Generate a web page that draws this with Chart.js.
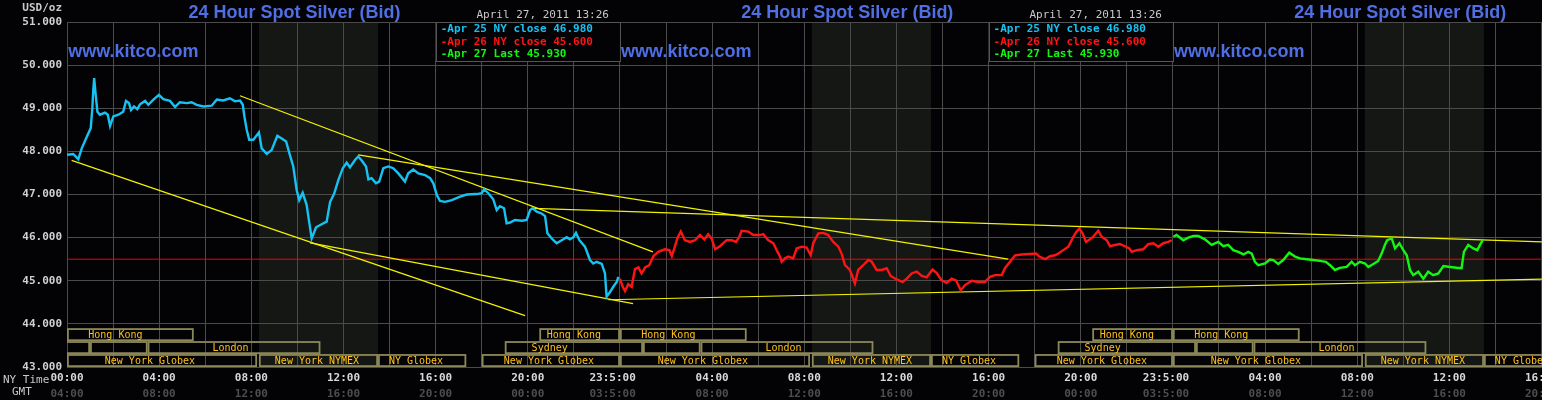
<!DOCTYPE html>
<html><head><meta charset="utf-8">
<script src="https://cdn.jsdelivr.net/npm/chart.js@4.4.1/dist/chart.umd.min.js"></script>
<style>html,body{margin:0;padding:0;background:#020204;overflow:hidden}canvas{display:block}</style>
</head><body>
<canvas id="c" width="1542" height="400"></canvas>
<script>
// ---------- DATA (hours since Apr 25 00:00 NY time, price USD/oz) ----------
const apr25Hours = [0.00,0.27,0.49,0.64,0.86,1.03,1.10,1.14,1.18,1.23,1.32,1.43,1.65,1.77,1.87,2.01,2.23,2.44,2.56,2.69,2.78,2.91,3.05,3.17,3.39,3.53,3.75,3.99,4.18,4.47,4.69,4.90,5.20,5.41,5.63,5.92,6.28,6.50,6.78,7.07,7.29,7.51,7.63,7.70,7.80,7.91,8.09,8.33,8.45,8.67,8.88,9.13,9.32,9.51,9.65,9.82,9.97,10.08,10.23,10.40,10.52,10.62,10.81,11.05,11.27,11.42,11.59,11.78,11.97,12.14,12.28,12.50,12.64,12.79,12.98,13.08,13.22,13.41,13.55,13.73,13.95,14.16,14.38,14.67,14.81,15.03,15.25,15.54,15.76,15.90,16.05,16.19,16.41,16.70,17.06,17.35,17.78,18.00,18.10,18.29,18.50,18.65,18.79,18.97,19.08,19.23,19.44,19.74,19.95,20.10,20.21,20.39,20.60,20.75,20.85,21.04,21.25,21.47,21.69,21.83,21.98,22.09,22.24,22.48,22.70,22.84,22.99,23.21,23.35,23.42,23.57,23.71,23.86,23.93];
const apr25Values = [47.92,47.94,47.82,48.07,48.34,48.54,49.00,49.43,49.70,49.39,48.92,48.85,48.90,48.85,48.59,48.81,48.85,48.92,49.17,49.12,48.96,49.04,48.98,49.09,49.17,49.08,49.20,49.31,49.21,49.17,49.03,49.14,49.12,49.14,49.08,49.04,49.06,49.20,49.18,49.23,49.16,49.18,49.08,48.81,48.50,48.27,48.27,48.44,48.07,47.94,48.03,48.36,48.30,48.23,47.96,47.65,47.10,46.87,47.04,46.76,46.33,45.98,46.24,46.31,46.37,46.83,47.01,47.34,47.61,47.74,47.63,47.80,47.88,47.79,47.65,47.35,47.38,47.26,47.30,47.61,47.65,47.61,47.49,47.30,47.49,47.58,47.49,47.45,47.38,47.26,46.99,46.85,46.83,46.87,46.95,47.00,47.01,47.03,47.12,47.03,46.89,46.64,46.73,46.68,46.33,46.35,46.41,46.39,46.41,46.64,46.68,46.60,46.56,46.50,46.10,45.98,45.87,45.94,46.01,45.96,46.01,46.11,45.94,45.79,45.48,45.40,45.44,45.39,45.17,44.63,44.74,44.86,44.97,45.09];

const apr26Hours = [24.00,24.12,24.22,24.36,24.51,24.65,24.80,24.94,25.09,25.27,25.45,25.66,25.95,26.14,26.25,26.36,26.49,26.64,26.82,27.04,27.26,27.47,27.66,27.83,27.98,28.13,28.34,28.63,28.85,29.04,29.18,29.28,29.57,29.79,30.08,30.22,30.44,30.66,30.80,30.95,31.02,31.16,31.31,31.52,31.67,31.89,32.10,32.28,32.39,32.61,32.83,33.04,33.26,33.48,33.62,33.77,33.98,34.20,34.34,34.56,34.78,34.93,35.14,35.36,35.58,35.75,36.01,36.27,36.45,36.66,36.88,37.10,37.31,37.57,37.75,37.96,38.18,38.40,38.59,38.79,38.98,39.27,39.55,39.84,40.06,40.28,40.57,40.71,40.93,41.15,41.44,41.80,42.06,42.20,42.45,42.67,42.88,43.03,43.24,43.46,43.68,43.82,43.94,44.08,44.23,44.40,44.54,44.76,44.91,45.13,45.27,45.49,45.70,45.92,46.11,46.21,46.43,46.71,46.93,47.15,47.37,47.58,47.80,47.95];
const apr26Values = [45.05,44.86,44.76,44.92,44.86,45.27,45.31,45.17,45.31,45.36,45.57,45.67,45.73,45.71,45.57,45.75,45.98,46.14,45.94,45.90,45.94,46.06,45.96,46.08,45.98,45.73,45.80,45.94,45.94,45.90,46.02,46.16,46.14,46.06,46.06,46.08,45.94,45.87,45.71,45.56,45.44,45.52,45.56,45.52,45.75,45.79,45.77,45.59,45.87,46.10,46.11,46.06,45.90,45.79,45.63,45.36,45.25,44.94,45.25,45.36,45.48,45.44,45.25,45.25,45.29,45.11,45.03,44.97,45.05,45.17,45.21,45.11,45.08,45.26,45.18,45.01,44.95,45.05,45.01,44.78,44.90,45.00,44.97,44.97,45.09,45.13,45.13,45.29,45.44,45.59,45.61,45.62,45.63,45.56,45.50,45.57,45.59,45.63,45.71,45.79,46.02,46.14,46.21,46.10,45.90,45.96,46.02,46.16,46.02,45.94,45.80,45.83,45.85,45.80,45.75,45.67,45.71,45.73,45.85,45.87,45.79,45.87,45.90,45.94];

const apr27Hours = [48.02,48.16,48.45,48.67,48.89,49.10,49.39,49.68,49.97,50.19,50.40,50.62,50.84,51.06,51.27,51.42,51.56,51.71,52.00,52.21,52.36,52.57,52.79,53.05,53.30,53.51,53.81,54.09,54.38,54.64,54.82,55.03,55.25,55.54,55.76,55.90,56.12,56.34,56.48,56.70,56.91,57.06,57.20,57.30,57.50,57.64,57.83,58.00,58.15,58.29,58.43,58.65,58.87,59.08,59.30,59.52,59.74,60.03,60.32,60.53,60.63,60.82,61.04,61.21,61.33,61.45];
const apr27Values = [46.02,46.06,45.94,46.00,46.04,46.04,45.96,45.83,45.90,45.80,45.83,45.71,45.67,45.61,45.67,45.63,45.44,45.36,45.40,45.49,45.48,45.39,45.48,45.65,45.56,45.52,45.50,45.48,45.46,45.44,45.36,45.25,45.30,45.32,45.44,45.36,45.44,45.40,45.32,45.39,45.46,45.63,45.83,45.94,45.98,45.75,45.87,45.71,45.59,45.25,45.13,45.21,45.05,45.21,45.13,45.17,45.34,45.32,45.30,45.29,45.67,45.83,45.75,45.71,45.83,45.94];

// previous close reference line (value as drawn)
const prevCloseLevel = 45.5;

// hand-drawn trend lines: [startHour, startValue, endHour, endValue]
const trendLines = [
  [0.20, 47.79, 19.88, 44.19],
  [7.51, 49.29, 25.43, 45.67],
  [10.55, 45.88, 24.57, 44.47],
  [12.64, 47.92, 40.85, 45.50],
  [20.24, 46.68, 64.02, 45.90],
  [23.50, 44.56, 64.02, 45.04]
];

// axis
const xMax = 64.02;
const yMin = 43, yMax = 51;
const nyTickHours  = [0,4,8,12,16,20,23.68,28,32,36,40,44,47.7,52,56,60,64];
const nyTickLabels = ['00:00','04:00','08:00','12:00','16:00','20:00','23:5:00','04:00','08:00','12:00','16:00','20:00','23:5:00','04:00','08:00','12:00','16:00'];
const gmtTickLabels= ['04:00','08:00','12:00','16:00','20:00','00:00','03:5:00','08:00','12:00','16:00','20:00','00:00','03:5:00','08:00','12:00','16:00','20:00'];

// trading sessions for one day (NY hours), repeated per day offset
const sessionNames   = ['Hong Kong','Hong Kong','Sydney','','London','New York Globex','New York Globex','New York NYMEX','NY Globex'];
const sessionStart   = [20.5, 24.0, 19.0, 25.0, 27.5, 18.0, 24.0, 32.33, 37.5];
const sessionEnd     = [24.0, 29.5, 25.0, 27.5, 35.0, 24.0, 32.25, 37.5, 41.33];
const sessionRow     = [0, 0, 1, 1, 1, 2, 2, 2, 2];
const sessionLabelAt = [22.0, 26.1, 20.95, 26.25, 31.1, 20.92, 27.6, 34.85, 39.15];
const dayOffsets     = [-24, 0, 24];
const rowBands       = [[43.6, 43.9], [43.3, 43.6], [43.0, 43.3]];

// legend / header texts
const titleText = '24 Hour Spot Silver (Bid)';
const siteText = 'www.kitco.com';
const stampText = 'April 27, 2011 13:26';
const legendLabels = ['-Apr 25 NY close 46.980', '-Apr 26 NY close 45.600', '-Apr 27 Last 45.930'];
const panelStarts = [0, 24, 48];      // hour where each repeated panel begins
const legendPanels = [24, 48];        // panels showing the legend box

// ---------- STYLE ----------
const COL_CYAN = '#16c2f2', COL_RED = '#ff1414', COL_GREEN = '#14f514';
const COL_BLUE = '#4f6fe2', COL_GRID = '#4b4b4b', COL_BG = '#030306';
const MONO = '"DejaVu Sans Mono", "Liberation Mono", monospace';
const SANS = '"Liberation Sans", Arial, sans-serif';

const pts = (hs, vs) => hs.map((h, i) => ({x: h, y: vs[i]}));

const datasets = [
  {data: pts(apr25Hours, apr25Values), borderColor: COL_CYAN, borderWidth: 2.4},
  {data: pts(apr26Hours, apr26Values), borderColor: COL_RED, borderWidth: 2.4},
  {data: pts(apr27Hours, apr27Values), borderColor: COL_GREEN, borderWidth: 2.4},
  ...trendLines.map(t => ({data: [{x: t[0], y: t[1]}, {x: t[2], y: t[3]}], borderColor: '#f2f200', borderWidth: 1.2})),
  {data: [{x: 0, y: prevCloseLevel}, {x: xMax, y: prevCloseLevel}], borderColor: '#e80808', borderWidth: 1}
];

const decorPlugin = {
  id: 'decor',
  beforeDraw(chart) {
    const {ctx, chartArea: a, scales: {x}} = chart;
    ctx.save();
    ctx.fillStyle = COL_BG;
    ctx.fillRect(0, 0, chart.width, chart.height);
    ctx.fillStyle = '#141714';
    dayOffsets.forEach(d => sessionNames.forEach((n, i) => {
      if (n !== 'New York NYMEX') return;
      const x0 = Math.max(a.left, x.getPixelForValue(sessionStart[i] + d));
      const x1 = Math.min(a.right, x.getPixelForValue(sessionEnd[i] + d));
      if (x1 > x0) ctx.fillRect(x0, a.top, x1 - x0, a.bottom - a.top);
    }));
    ctx.restore();
  },
  beforeDatasetsDraw(chart) {
    const {ctx, chartArea: a, scales: {x, y}} = chart;
    ctx.save();
    ctx.beginPath(); ctx.rect(a.left, a.top, a.right - a.left, a.bottom - a.top + 1); ctx.clip();
    ctx.strokeStyle = '#8d8859'; ctx.lineWidth = 1.8;
    ctx.font = '10px ' + MONO; ctx.fillStyle = '#ffc21a';
    ctx.textAlign = 'center'; ctx.textBaseline = 'middle';
    dayOffsets.forEach(d => sessionNames.forEach((n, i) => {
      const band = rowBands[sessionRow[i]];
      const x0 = x.getPixelForValue(sessionStart[i] + d), x1 = x.getPixelForValue(sessionEnd[i] + d);
      const y0 = y.getPixelForValue(band[1]), y1 = y.getPixelForValue(band[0]);
      ctx.strokeRect(x0 + 0.9, y0 + 0.9, x1 - x0 - 1.8, y1 - y0 - 1.8);
      if (n) ctx.fillText(n, x.getPixelForValue(sessionLabelAt[i] + d), (y0 + y1) / 2 + 0.5);
    }));
    ctx.restore();
  },
  afterDatasetsDraw(chart) {
    const {ctx, chartArea: a, scales: {x}} = chart;
    ctx.save();
    // legend boxes
    legendPanels.forEach(p => {
      const x0 = x.getPixelForValue(p - 8), x1 = x.getPixelForValue(p);
      ctx.fillStyle = COL_BG; ctx.fillRect(x0, a.top + 1, x1 - x0, 38);
      ctx.strokeStyle = '#555'; ctx.lineWidth = 1;
      ctx.strokeRect(Math.round(x0) + 0.5, Math.round(a.top) + 0.5, Math.round(x1 - x0), 39);
      ctx.font = 'bold 11px ' + MONO; ctx.textAlign = 'left'; ctx.textBaseline = 'middle';
      [COL_CYAN, COL_RED, COL_GREEN].forEach((c, i) => {
        ctx.fillStyle = c; ctx.fillText(legendLabels[i], x0 + 5, a.top + 7.5 + i * 12.4);
      });
      ctx.font = '11px ' + MONO; ctx.fillStyle = '#c8c8c8'; ctx.textAlign = 'right';
      ctx.fillText(stampText, x1 - 11, 15);
    });
    // titles and site name
    panelStarts.forEach(p => {
      ctx.fillStyle = COL_BLUE; ctx.textBaseline = 'alphabetic';
      ctx.font = 'bold 18px ' + SANS; ctx.textAlign = 'center';
      ctx.fillText(titleText, x.getPixelForValue(p + 9.87), 17.5);
      ctx.textAlign = 'left';
      ctx.fillText(siteText, x.getPixelForValue(p + 0.05), 56.5);
    });
    // axis captions
    ctx.fillStyle = '#c8c8c8'; ctx.textBaseline = 'middle';
    ctx.font = 'bold 11px ' + MONO; ctx.textAlign = 'right';
    ctx.fillText('USD/oz', 62, 8);
    ctx.font = '11px ' + MONO; ctx.textAlign = 'left';
    ctx.fillText('NY Time', 3, 380);
    ctx.fillText('GMT', 12, 392);
    ctx.restore();
  }
};

const gridTicks = () => {
  const t = [];
  for (let h = 0; h <= 64; h += 2) t.push(h);
  nyTickHours.forEach(h => { if (!t.includes(h)) t.push(h); });
  return t.sort((p, q) => p - q).map(v => ({value: v}));
};
const labelFor = (arr) => (v) => { const i = nyTickHours.indexOf(v); return i >= 0 ? arr[i] : ''; };

new Chart(document.getElementById('c'), {
  type: 'line',
  data: {datasets},
  options: {
    responsive: false, animation: false, devicePixelRatio: 1,
    layout: {padding: {top: 22, left: 0, right: 0, bottom: 0}},
    plugins: {legend: {display: false}, tooltip: {enabled: false}},
    elements: {point: {radius: 0}, line: {tension: 0}},
    scales: {
      x: {
        type: 'linear', position: 'bottom', min: 0, max: xMax,
        afterBuildTicks: s => { s.ticks = gridTicks(); },
        afterFit: s => { s.height = 19; s.paddingLeft = 0; s.paddingRight = 0; },
        ticks: {autoSkip: false, maxRotation: 0, minRotation: 0, padding: 5, color: '#d8d8d8',
          font: {family: MONO, size: 11, weight: 'bold'}, callback: labelFor(nyTickLabels)},
        grid: {drawTicks: false, lineWidth: 1,
          color: c => (c.tick && Number.isInteger(c.tick.value) && c.tick.value % 2 === 0) ? COL_GRID : 'rgba(0,0,0,0)'},
        border: {display: false}
      },
      x2: {
        type: 'linear', position: 'bottom', min: 0, max: xMax,
        afterBuildTicks: s => { s.ticks = nyTickHours.map(v => ({value: v})); },
        afterFit: s => { s.height = 14; s.paddingLeft = 0; s.paddingRight = 0; },
        ticks: {autoSkip: false, maxRotation: 0, minRotation: 0, padding: 2, color: '#4e4e4e',
          font: {family: MONO, size: 11, weight: 'bold'}, callback: labelFor(gmtTickLabels)},
        grid: {display: false, drawTicks: false},
        border: {display: false}
      },
      y: {
        type: 'linear', position: 'left', min: yMin, max: yMax,
        afterFit: s => { s.width = 67; s.paddingTop = 0; s.paddingBottom = 0; },
        ticks: {stepSize: 1, padding: 5, color: '#d0d0d0', font: {family: MONO, size: 11, weight: 'bold'},
          callback: v => Number(v).toFixed(3)},
        grid: {color: COL_GRID, drawTicks: false, lineWidth: 1},
        border: {display: false}
      }
    }
  },
  plugins: [decorPlugin]
});
</script>
</body></html>
